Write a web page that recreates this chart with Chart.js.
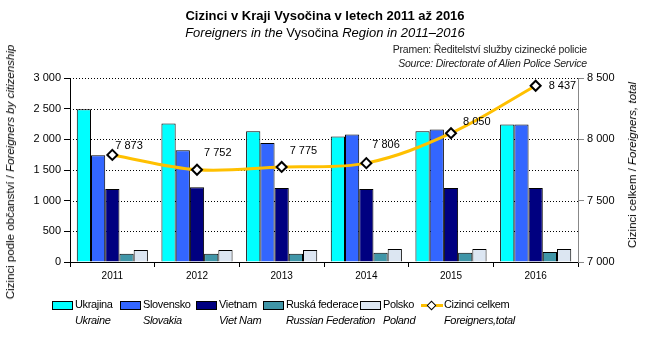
<!DOCTYPE html>
<html>
<head>
<meta charset="utf-8">
<script src="https://cdn.jsdelivr.net/npm/chart.js@4"></script>
<style>
  body { margin: 0; background: #fff; font-family: "Liberation Sans", Arial, sans-serif; }
  #wrap { position: relative; width: 650px; height: 348px; overflow: hidden; }
  #myChart { position: absolute; left: 0; top: 0; }
  .t { position: absolute; white-space: nowrap; color: #000; }
  .lg { letter-spacing: -0.35px; font-size: 11px; }
  .rot { position: absolute; white-space: nowrap; transform: translate(-50%, -50%) rotate(-90deg); font-size: 11.5px; }
  .sw { position: absolute; width: 19px; height: 7px; border: 1px solid #000; }
</style>
</head>
<body>
<div id="wrap">
  <canvas id="myChart" width="650" height="348"></canvas>
  <div class="t" style="left:0;width:650px;text-align:center;top:8px;font-size:13px;font-weight:bold;">Cizinci v Kraji Vysočina v letech 2011 až 2016</div>
  <div class="t" style="left:0;width:650px;text-align:center;top:25px;font-size:13px;"><i>Foreigners in the</i> Vysočina <i>Region in 2011–2016</i></div>
  <div class="t" style="right:63px;top:43px;font-size:10.5px;color:#222;letter-spacing:-0.2px;">Pramen: Ředitelství služby cizinecké policie</div>
  <div class="t" style="right:63px;top:57px;font-size:10.5px;color:#222;font-style:italic;letter-spacing:-0.2px;">Source: Directorate of Alien Police Service</div>
  <div class="rot" style="left:10px;top:172px;">Cizinci podle občanství / <i>Foreigners by citizenship</i></div>
  <div class="rot" style="left:632px;top:165px;">Cizinci celkem / <i>Foreigners, total</i></div>
  <div id="legend"></div>
</div>
<script>
// values
const years = ["2011", "2012", "2013", "2014", "2015", "2016"];
const ukrajina = [2490, 2260, 2130, 2048, 2130, 2243];
const slovensko = [1740, 1820, 1940, 2080, 2160, 2243];
const vietnam = [1190, 1220, 1208, 1190, 1208, 1208];
const ruskaFederace = [135, 135, 135, 151, 151, 163];
const polsko = [195, 195, 195, 211, 211, 211];
const celkem = [7873, 7752, 7775, 7806, 8050, 8437];

const leftTicks = [0, 500, 1000, 1500, 2000, 2500, 3000];
const rightTicks = [7000, 7500, 8000, 8500];

const legendCz = ["Ukrajina", "Slovensko", "Vietnam", "Ruská federace", "Polsko", "Cizinci celkem"];
const legendEn = ["Ukraine", "Slovakia", "Viet Nam", "Russian Federation", "Poland", "Foreigners,total"];
const colors = ["#00ffff", "#3366ff", "#000080", "#4096a8", "#dce6f2", "#ffc000"];

function fmt(v){
	return String(v).replace(/\B(?=(\d{3})+(?!\d))/g, " ");
}

// legend built as html (two lines per item)
const legX = [52, 120, 196, 263, 360, 421];
let leg = document.getElementById("legend");
for (let i = 0; i < legendCz.length; i++){
	let x = legX[i];
	if (i < 5){
		leg.innerHTML += `<div class="sw" style="left:${x}px;top:301px;background:${colors[i]}"></div>`;
	} else {
		leg.innerHTML += `<div style="position:absolute;left:${x}px;top:304px;width:22px;height:3px;background:${colors[i]}"></div>`;
		leg.innerHTML += `<div style="position:absolute;left:${x+7}px;top:302px;width:5px;height:5px;background:#fff;border:1.5px solid #000;transform:rotate(45deg)"></div>`;
	}
	leg.innerHTML += `<div class="t lg" style="left:${x+23}px;top:298px">${legendCz[i]}</div>`;
	leg.innerHTML += `<div class="t lg" style="left:${x+23}px;top:314px;font-style:italic">${legendEn[i]}</div>`;
}

// labels next to the total line points
const labelPlugin = {
	id: "totalLabels",
	afterDatasetsDraw(chart){
		const ctx = chart.ctx;
		const meta = chart.getDatasetMeta(5);
		const dx = [3, 7, 8, 6, 12, 13];
		const dy = [-9, -17, -16, -18, -11, 0];
		ctx.save();
		ctx.font = "11px 'Liberation Sans', Arial";
		ctx.fillStyle = "#000";
		ctx.textBaseline = "middle";
		meta.data.forEach((pt, i) => {
			ctx.fillText(fmt(celkem[i]), pt.x + dx[i], pt.y + dy[i]);
		});
		ctx.restore();
	}
};

// dotted horizontal gridlines inside the plot, drawn under the bars
const gridPlugin = {
	id: "dotGrid",
	beforeDatasetsDraw(chart){
		const ctx = chart.ctx, a = chart.chartArea, y = chart.scales.y;
		ctx.save();
		ctx.strokeStyle = "#000";
		ctx.lineWidth = 1;
		ctx.setLineDash([1, 2]);
		leftTicks.forEach(v => {
			if (v === 0) return;
			let py = Math.round(y.getPixelForValue(v)) + 0.5;
			ctx.beginPath(); ctx.moveTo(a.left, py); ctx.lineTo(a.right, py); ctx.stroke();
		});
		ctx.restore();
	}
};

const barSets = [ukrajina, slovensko, vietnam, ruskaFederace, polsko];
const datasets = barSets.map((d, i) => ({
	type: "bar",
	label: legendCz[i],
	data: d,
	backgroundColor: colors[i],
	borderColor: "#000",
	borderWidth: 1,
	yAxisID: "y",
	order: 2,
	barPercentage: 1,
	categoryPercentage: 0.84
}));
datasets.push({
	type: "line",
	label: legendCz[5],
	data: celkem,
	yAxisID: "y2",
	borderColor: colors[5],
	borderWidth: 3,
	tension: 0.35,
	pointStyle: "rectRot",
	pointRadius: 5,
	pointBackgroundColor: "#fff",
	pointBorderColor: "#000",
	pointBorderWidth: 2,
	order: 1
});

const tickFont = { size: 11, family: "'Liberation Sans', Arial" };

const config = {
	data: { labels: years, datasets: datasets },
	options: {
		responsive: false,
		animation: false,
		layout: { padding: { top: 78, left: 0, right: 0, bottom: 0 } },
		plugins: { legend: { display: false }, tooltip: { enabled: false } },
		scales: {
			x: {
				grid: { offset: true, drawOnChartArea: false, color: "#000", tickLength: 5 },
				border: { color: "#000" },
				ticks: { color: "#000", font: { size: 10, family: "'Liberation Sans', Arial" }, padding: 3 },
				afterFit(s){ s.height = 86; }
			},
			y: {
				position: "left",
				min: 0, max: 3000,
				afterBuildTicks(s){ s.ticks = leftTicks.map(v => ({ value: v })); },
				grid: { drawOnChartArea: false, color: "#000", tickLength: 6 },
				border: { color: "#000" },
				ticks: { color: "#000", font: tickFont, padding: 3, callback: v => fmt(v) },
				afterFit(s){ s.width = 70; }
			},
			y2: {
				position: "right",
				min: 7000, max: 8500,
				afterBuildTicks(s){ s.ticks = rightTicks.map(v => ({ value: v })); },
				grid: { drawOnChartArea: false, color: "#888", tickLength: 6 },
				border: { color: "#888" },
				ticks: { color: "#000", font: tickFont, padding: 3, callback: v => fmt(v) },
				afterFit(s){ s.width = 72; }
			}
		}
	},
	plugins: [gridPlugin, labelPlugin]
};

const ctx = document.getElementById("myChart").getContext("2d");
const myChart = new Chart(ctx, config);
</script>
</body>
</html>
